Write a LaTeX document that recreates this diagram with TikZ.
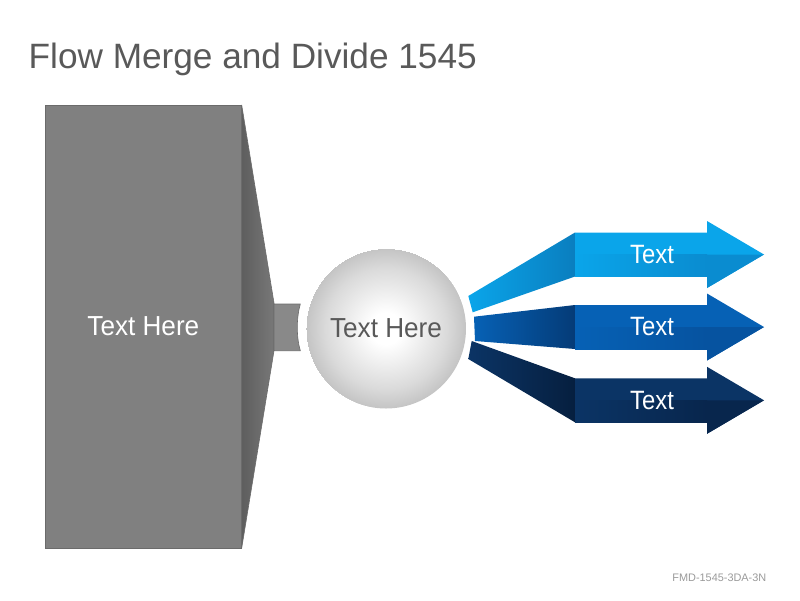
\documentclass[tikz,border=0pt]{standalone}
\usepackage{fontspec}
\setmainfont{Liberation Sans}
\newfontfamily\herefont[FakeStretch=0.95]{Liberation Sans}
\newfontfamily\arrfont[FakeStretch=0.9]{Liberation Sans}
\definecolor{titlegray}{HTML}{595959}
\definecolor{footgray}{HTML}{9A9A9A}
\definecolor{boxfill}{HTML}{808080}
\definecolor{boxline}{HTML}{6B6B6B}
\definecolor{funleft}{HTML}{5E5E5E}
\definecolor{funright}{HTML}{787878}
\definecolor{neckfill}{HTML}{898989}
\definecolor{ballmid}{HTML}{DADADA}
\definecolor{ballrim}{HTML}{C4C4C4}
\definecolor{flowA}{HTML}{0AA5EA}
\definecolor{flowAdark}{HTML}{0A8CD0}
\definecolor{flowAwedge}{HTML}{0A7EBF}
\definecolor{flowB}{HTML}{0661B5}
\definecolor{flowBdark}{HTML}{0653A0}
\definecolor{flowBwedge}{HTML}{053B77}
\definecolor{flowC}{HTML}{0B3465}
\definecolor{flowCdark}{HTML}{08264D}
\definecolor{flowCwedge}{HTML}{061F3F}
\pgfdeclareradialshading{sphere}{\pgfpoint{0bp}{0bp}}{color(0bp)=(white);
	color(5bp)=(white); color(19bp)=(ballmid); color(25bp)=(ballrim)}
\begin{document}
\begin{tikzpicture}[x=1pt,y=-1pt,
	bigtext/.style={font=\herefont\fontsize{27.5}{31}\selectfont,inner sep=0pt},
	arrtext/.style={font=\arrfont\fontsize{26.5}{30}\selectfont,inner sep=0pt,text=white}]
	\useasboundingbox (0,0) rectangle (800,600);
	\path (28.5,68) node[anchor=base west,inner sep=0pt,text=titlegray,
		font=\fontsize{35.2}{40}\selectfont] (title) {Flow Merge and Divide 1545};
	\path (766.5,581) node[anchor=base east,inner sep=0pt,text=footgray,
		font=\fontsize{10.9}{13}\selectfont] (code) {FMD-1545-3DA-3N};
	\shade[left color=funleft,right color=funright,draw=boxline,line width=0.6pt]
		(241.7,105)--(274,303)--(274,350.7)--(241.7,548)--cycle;
	\filldraw[fill=neckfill,draw=boxline,line width=0.6pt]
		(274,304)--(300.3,304) .. controls (296.3,318) and (296.3,337) .. (300.3,350.7)
		--(274,350.7)--cycle;
	\node[draw=boxline,fill=boxfill,line width=0.6pt,minimum width=196.7,
		minimum height=443,bigtext,text=white] (box) at (143.35,326.5) {Text Here};
	\node[circle,shading=sphere,minimum size=160,bigtext,text=titlegray]
		(ball) at (386,328.5) {Text Here};
	\foreach \n/\c/\xa/\ya/\xb/\yb in {A/254.5/468.3/296/472.7/312.3,
		B/327/474/316.7/475/341,C/400.3/471.7/341/468.3/359}
	{
		\shade[left color=flow\n,right color=flow\n wedge]
			(\xa,\ya)--(575,\c-22)--(575,\c+22)--(\xb,\yb)--cycle;
		\fill[flow\n] (575,\c-22)--(707,\c-22)--(707,\c-33.5)--(764,\c)
			--(707,\c+33.5)--(707,\c+22)--(575,\c+22)--cycle;
		\shade[left color=flow\n,right color=flow\n dark]
			(575,\c)--(707,\c)--(707,\c+22)--(575,\c+22)--cycle;
		\fill[flow\n dark] (707,\c)--(764,\c)--(707,\c+33.5)--cycle;
		\path (652,\c) node[arrtext] (t\n) {Text};
	}
\end{tikzpicture}
\end{document}
